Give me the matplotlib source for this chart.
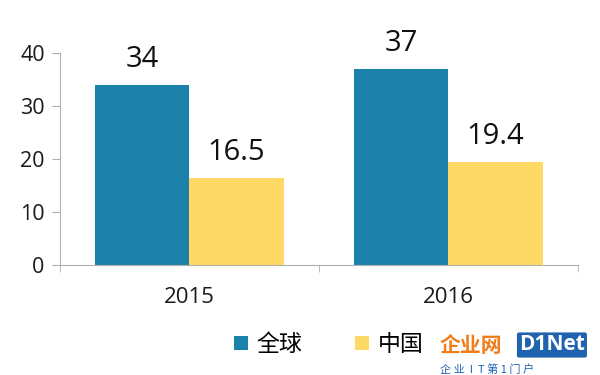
import matplotlib.pyplot as plt
import numpy as np

plt.rcParams['font.family'] = ['Open Sans', 'Noto Sans CJK SC', 'DejaVu Sans']

# data
years = ["2015", "2016"]
series = ["全球", "中国"]
global_vals = [34, 37]
china_vals = [16.5, 19.4]
value_labels_global = ["34", "37"]
value_labels_china = ["16.5", "19.4"]

BLUE = "#1b80aa"
YELLOW = "#ffd966"
GRAY = "#b0b0b0"

fig = plt.figure(figsize=(6, 3.75), dpi=100)
ax = fig.add_axes([0.1, 0.2933, 0.863, 0.5653])

x = np.arange(len(years))
w = 0.364
b1 = ax.bar(x - w / 2, global_vals, w, color=BLUE, label=series[0])
b2 = ax.bar(x + w / 2, china_vals, w, color=YELLOW, label=series[1])

for bars, labs in ((b1, value_labels_global), (b2, value_labels_china)):
    for r, lab in zip(bars, labs):
        ax.annotate(lab, (r.get_x() + r.get_width() / 2, r.get_height()),
                    xytext=(0, 13), textcoords="offset points",
                    ha="center", va="baseline", fontsize=21, color="#111111",
                    annotation_clip=False)

ax.set_xlim(-0.5, len(years) - 0.5)
ax.set_ylim(0, 40)
ax.set_yticks([0, 10, 20, 30, 40])
ax.set_xticks(x)
ax.set_xticklabels(years)
ax.set_xticks(np.arange(len(years) + 1) - 0.5, minor=True)

for s in ("top", "right"):
    ax.spines[s].set_visible(False)
ax.spines["left"].set_color(GRAY)
ax.spines["bottom"].set_color(GRAY)
ax.tick_params(axis="y", length=6, color=GRAY, labelsize=15.5, labelcolor="#1a1a1a", pad=5)
ax.tick_params(axis="x", which="major", length=0, labelsize=16, labelcolor="#1a1a1a", pad=16)
ax.tick_params(axis="x", which="minor", length=5, color=GRAY)

fig.legend(handles=[b1, b2], labels=series, loc="center", bbox_to_anchor=(0.548, 0.08),
           ncol=2, frameon=False, fontsize=16.5, handlelength=0.6, handleheight=0.6,
           handletextpad=0.4, columnspacing=2.3)

# watermark
fig.text(0.733, 0.08, "企业网", color="#f07d1a", fontsize=15, fontweight="bold",
         ha="left", va="center", family=["Noto Sans CJK SC"])
fig.text(0.865, 0.08, "D1Net", color="white", fontsize=15, fontweight="bold",
         ha="left", va="center",
         bbox=dict(boxstyle="round,pad=0.1", fc="#1f63b0", ec="none"))
fig.text(0.733, 0.015, "企 业  I  T 第 1 门 户", color="#1f63b0", fontsize=8,
         ha="left", va="center", family=["Noto Sans CJK SC", "DejaVu Sans"])

fig.savefig("out.png", dpi=100)
